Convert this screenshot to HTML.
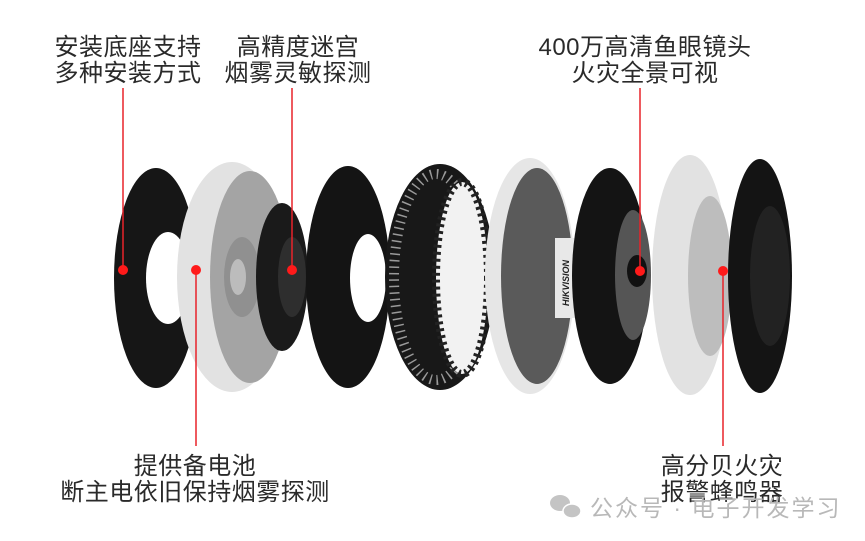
<!DOCTYPE html>
<html><head><meta charset="utf-8"><style>
html,body{margin:0;padding:0;background:#fff;}
.w{position:relative;width:865px;height:541px;overflow:hidden;background:#fff;font-family:"Liberation Sans","Noto Sans CJK SC",sans-serif;}
.t{position:absolute;font-size:24px;line-height:26px;color:#2a2a2a;text-align:center;white-space:nowrap;letter-spacing:0.5px;}
svg{position:absolute;left:0;top:0;}
</style></head><body><div class="w">
<svg width="865" height="541" viewBox="0 0 865 541">
<!-- black ring -->
<ellipse cx="156" cy="278" rx="42" ry="110" fill="#161616"/>
<ellipse cx="168" cy="278" rx="22" ry="46" fill="#fff"/>
<!-- white base -->
<ellipse cx="232" cy="277" rx="55" ry="115" fill="#e2e2e2"/>
<ellipse cx="250" cy="277" rx="40" ry="106" fill="#a4a4a4"/>
<ellipse cx="242" cy="277" rx="18" ry="40" fill="#909090"/>
<ellipse cx="238" cy="277" rx="8" ry="18" fill="#bcbcbc"/>
<!-- gear -->
<ellipse cx="282" cy="277" rx="26" ry="74" fill="#1a1a1a"/>
<ellipse cx="292" cy="277" rx="14" ry="40" fill="#2e2e2e"/>
<!-- black disk -->
<ellipse cx="348" cy="277" rx="42" ry="111" fill="#141414"/>
<ellipse cx="368" cy="278" rx="18" ry="44" fill="#fff"/>
<!-- labyrinth -->
<ellipse cx="440" cy="277" rx="55" ry="113" fill="#181818"/>
<ellipse cx="436" cy="277" rx="42" ry="103" fill="none" stroke="#9a9a9a" stroke-width="10" stroke-dasharray="1.5 5"/>
<ellipse cx="462" cy="278" rx="26" ry="96" fill="#f2f2f2"/>
<ellipse cx="462" cy="278" rx="26" ry="96" fill="none" stroke="#222" stroke-width="8" stroke-dasharray="3 4"/>
<!-- white cover -->
<ellipse cx="530" cy="276" rx="45" ry="118" fill="#e6e6e6"/>
<ellipse cx="537" cy="276" rx="36" ry="108" fill="#5a5a5a"/>
<rect x="555" y="238" width="20" height="80" fill="#e8e8e8"/>
<text x="0" y="0" transform="translate(569,306) rotate(-90)" font-family="Liberation Sans" font-weight="bold" font-style="italic" font-size="9" fill="#222">HIKVISION</text>
<!-- lens board -->
<ellipse cx="610" cy="276" rx="38" ry="108" fill="#141414"/>
<ellipse cx="633" cy="275" rx="18" ry="65" fill="#555"/>
<ellipse cx="637" cy="271" rx="10" ry="16" fill="#111"/>
<!-- white part -->
<ellipse cx="690" cy="275" rx="38" ry="120" fill="#e2e2e2"/>
<ellipse cx="710" cy="276" rx="22" ry="80" fill="#bdbdbd"/>
<!-- black back -->
<ellipse cx="760" cy="276" rx="32" ry="117" fill="#141414"/>
<ellipse cx="770" cy="276" rx="20" ry="70" fill="#222"/>
<!-- red lines -->
<g stroke="#e8232a" stroke-width="1.5">
<line x1="123" y1="88" x2="123" y2="270"/>
<line x1="292" y1="88" x2="292" y2="270"/>
<line x1="196" y1="270" x2="196" y2="446"/>
<line x1="640" y1="88" x2="640" y2="271"/>
<line x1="723" y1="271" x2="723" y2="446"/>
</g>
<g fill="#ff1a1a">
<circle cx="123" cy="270" r="5"/>
<circle cx="196" cy="270" r="5"/>
<circle cx="292" cy="270" r="5"/>
<circle cx="640" cy="271" r="5"/>
<circle cx="723" cy="271" r="5"/>
</g>
<!-- wechat icon -->
<ellipse cx="560" cy="503" rx="10" ry="8" fill="#c4c4c4"/>
<ellipse cx="572" cy="511" rx="9" ry="7" fill="#c4c4c4" stroke="#fff" stroke-width="1.5"/>
</svg>
<div class="t" style="left:40px;top:35px;width:176px;">安装底座支持<br>多种安装方式</div>
<div class="t" style="left:210px;top:35px;width:176px;">高精度迷宫<br>烟雾灵敏探测</div>
<div class="t" style="left:525px;top:35px;width:240px;">400万高清鱼眼镜头<br>火灾全景可视</div>
<div class="t" style="left:45px;top:454px;width:300px;">提供备电池<br>断主电依旧保持烟雾探测</div>
<div class="t" style="left:642px;top:454px;width:160px;">高分贝火灾<br>报警蜂鸣器</div>
<div class="t" style="left:590px;top:495px;width:260px;color:#b8b8b8;font-size:23px;letter-spacing:2px;text-align:left;">公众号 · 电子开发学习</div>
</div></body></html>
